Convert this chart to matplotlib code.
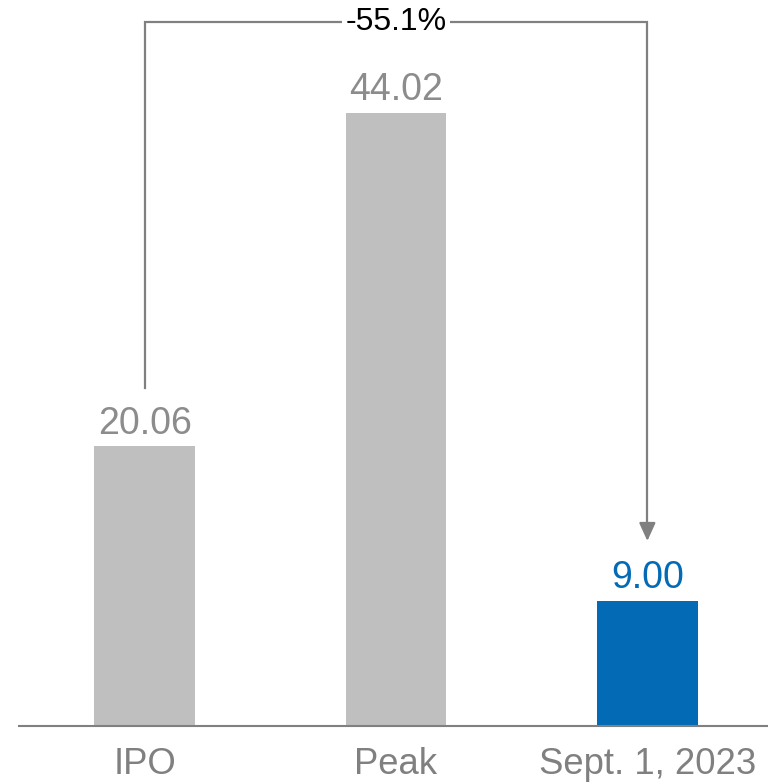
import matplotlib.pyplot as plt

plt.rcParams['font.family'] = ['Liberation Sans', 'DejaVu Sans']

categories = ["IPO", "Peak", "Sept. 1, 2023"]
prices = [20.06, 44.02, 9.00]
value_labels = ["20.06", "44.02", "9.00"]
change_label = "-55.1%"

grey = "#BFBFBF"
blue = "#036AB5"
bar_colors = [grey, grey, blue]
label_colors = ["#8C8C8C", "#8C8C8C", blue]
line_grey = "#808080"

fig = plt.figure(figsize=(7.68, 7.84), dpi=100)
ax = fig.add_axes([19 / 768, 58 / 784, 749 / 768, 726 / 784])

x = list(range(len(categories)))
ax.bar(x, prices, width=0.4, color=bar_colors, zorder=2)

ax.set_xlim(-0.5, 2.48)
ax.set_ylim(0, 52.1)

for xi, v, lab, c in zip(x, prices, value_labels, label_colors):
    ax.annotate(lab, (xi, v), xytext=(0, 3.5), textcoords="offset points",
                ha="center", va="bottom", fontsize=27, color=c)

for s in ["top", "right", "left"]:
    ax.spines[s].set_visible(False)
ax.spines["bottom"].set_color(line_grey)
ax.spines["bottom"].set_linewidth(1.5)
ax.set_yticks([])
ax.set_xticks(x)
ax.set_xticklabels(categories, fontsize=26.3, color="#808080")
ax.tick_params(axis="x", length=0, pad=15)

# bracket from IPO to latest price with arrow
top_y = 50.5
start_y = prices[0] + 4.2
end_y = prices[2] + 4.28
ax.plot([0, 0, 2, 2], [start_y, top_y, top_y, end_y + 1.0],
        color=line_grey, lw=1.6, solid_joinstyle="miter", clip_on=False, zorder=3)
ax.annotate("", xy=(2, end_y), xytext=(2, end_y + 1.2),
            arrowprops=dict(arrowstyle="-|>,head_length=1.1,head_width=0.5",
                            color=line_grey, lw=1.6, shrinkA=0, shrinkB=0))
ax.text(1, top_y, change_label, ha="center", va="center", fontsize=23,
        color="black", zorder=4,
        bbox=dict(boxstyle="square,pad=0.12", fc="white", ec="none"))

fig.savefig("out.png", dpi=100)
